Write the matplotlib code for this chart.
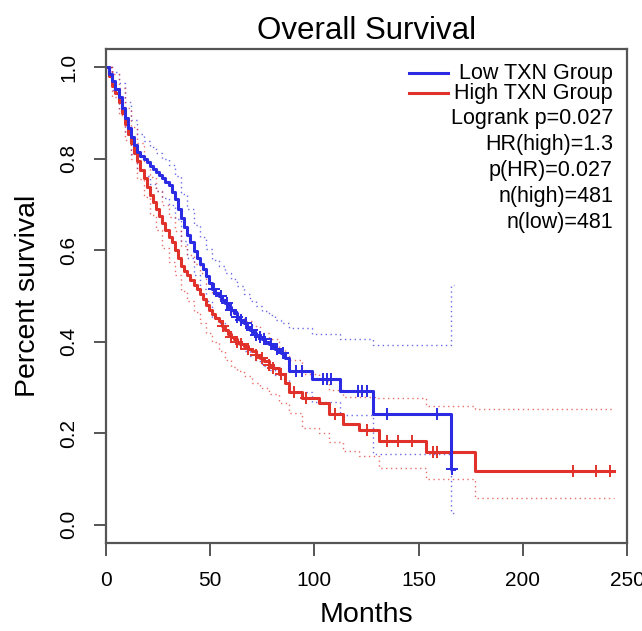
import numpy as np
import matplotlib
matplotlib.use("Agg")
import matplotlib.pyplot as plt

plt.rcParams['font.family'] = ['Liberation Sans', 'DejaVu Sans']

# ---- data ----
low_t = [0, 1.5, 3, 4.5, 6, 7.5, 9, 10.5, 12, 13.5, 15, 16.5, 18, 19.5, 21, 22.5, 24, 25.5, 27, 28.5,
         30, 31.5, 33, 34.5, 36, 37.5, 39, 40.5, 42, 43.5, 45, 46.5, 48, 49.5, 51, 52.5, 54, 55.5, 57,
         58.5, 60, 61.5, 63, 64.5, 66, 67.5, 69, 70.5, 72, 73.5, 75, 76.5, 78, 79.5, 81, 82.5, 84, 86,
         88, 99, 112.5, 128, 165.5, 167]
low_s = [1.000, 0.985, 0.970, 0.952, 0.935, 0.912, 0.890, 0.868, 0.847, 0.830, 0.815, 0.806, 0.800,
         0.792, 0.785, 0.778, 0.771, 0.765, 0.757, 0.750, 0.742, 0.728, 0.712, 0.690, 0.670, 0.650,
         0.634, 0.618, 0.598, 0.583, 0.570, 0.558, 0.544, 0.528, 0.515, 0.507, 0.500, 0.492, 0.485,
         0.477, 0.470, 0.462, 0.455, 0.447, 0.440, 0.432, 0.425, 0.420, 0.415, 0.410, 0.405, 0.400,
         0.395, 0.390, 0.385, 0.380, 0.375, 0.365, 0.337, 0.319, 0.293, 0.243, 0.122, 0.122]

high_t = [0, 1.5, 3, 4.5, 6, 7.5, 9, 10.5, 12, 13.5, 15, 16.5, 18, 19.5, 21, 22.5, 24, 25.5, 27, 28.5,
          30, 31.5, 33, 34.5, 36, 37.5, 39, 40.5, 42, 43.5, 45, 46.5, 48, 49.5, 51, 52.5, 54, 55.5, 57,
          58.5, 60, 61.5, 63, 64.5, 66, 68, 70, 72, 74, 76, 78, 80, 83, 86, 88, 94, 102, 107, 113.5,
          121.5, 131, 153.5, 177, 244]
high_s = [1.000, 0.980, 0.960, 0.943, 0.925, 0.900, 0.875, 0.855, 0.835, 0.812, 0.795, 0.775, 0.757,
          0.738, 0.720, 0.705, 0.690, 0.675, 0.660, 0.645, 0.630, 0.617, 0.600, 0.582, 0.565, 0.555,
          0.545, 0.535, 0.525, 0.515, 0.505, 0.493, 0.480, 0.470, 0.460, 0.452, 0.445, 0.435, 0.425,
          0.417, 0.410, 0.405, 0.400, 0.395, 0.390, 0.385, 0.380, 0.372, 0.365, 0.358, 0.350, 0.342,
          0.330, 0.310, 0.290, 0.278, 0.265, 0.243, 0.221, 0.206, 0.184, 0.158, 0.118, 0.118]

low_up_t = [0, 3, 6, 9, 12, 15, 18, 21, 24, 27, 30, 33, 36, 39, 42, 45, 48, 51, 54, 57, 60, 63, 66, 69,
            72, 75, 78, 81, 84, 88, 99, 112.5, 128, 165.5, 167]
low_up_s = [1.0, 0.99, 0.965, 0.925, 0.885, 0.855, 0.838, 0.825, 0.812, 0.800, 0.787, 0.762, 0.722,
            0.690, 0.655, 0.628, 0.603, 0.578, 0.565, 0.550, 0.538, 0.522, 0.505, 0.490, 0.478, 0.468,
            0.458, 0.448, 0.440, 0.430, 0.418, 0.405, 0.392, 0.523, 0.523]
low_lo_t = [0, 3, 6, 9, 12, 15, 18, 21, 24, 27, 30, 33, 36, 39, 42, 45, 48, 51, 54, 57, 60, 63, 66, 69,
            72, 75, 78, 81, 84, 88, 99, 112.5, 128, 165.5, 167]
low_lo_s = [1.0, 0.95, 0.905, 0.855, 0.81, 0.775, 0.762, 0.745, 0.73, 0.715, 0.698, 0.668, 0.62,
            0.583, 0.545, 0.515, 0.488, 0.455, 0.44, 0.425, 0.41, 0.395, 0.38, 0.368, 0.358, 0.348,
            0.338, 0.328, 0.318, 0.29, 0.268, 0.24, 0.155, 0.026, 0.026]

high_up_t = [0, 3, 6, 9, 12, 15, 18, 21, 24, 27, 30, 33, 36, 39, 42, 45, 48, 51, 54, 57, 60, 63, 66,
             70, 74, 78, 83, 86, 88, 94, 102, 107, 113.5, 129, 153.5, 177, 244]
high_up_s = [1.0, 0.985, 0.955, 0.91, 0.87, 0.835, 0.795, 0.76, 0.73, 0.70, 0.672, 0.643, 0.61, 0.59,
             0.57, 0.55, 0.527, 0.507, 0.493, 0.475, 0.46, 0.452, 0.445, 0.435, 0.42, 0.405, 0.385,
             0.368, 0.36, 0.33, 0.315, 0.295, 0.28, 0.278, 0.26, 0.252, 0.252]
high_lo_t = [0, 3, 6, 9, 12, 15, 18, 21, 24, 27, 30, 33, 36, 39, 42, 45, 48, 51, 54, 57, 60, 63, 66,
             70, 74, 78, 83, 88, 94, 102, 107, 113.5, 121.5, 131, 153.5, 177, 244]
high_lo_s = [1.0, 0.935, 0.895, 0.84, 0.80, 0.755, 0.717, 0.678, 0.645, 0.605, 0.575, 0.545, 0.51,
             0.49, 0.465, 0.44, 0.42, 0.40, 0.38, 0.36, 0.345, 0.335, 0.325, 0.31, 0.298, 0.285, 0.265,
             0.245, 0.212, 0.2, 0.18, 0.162, 0.15, 0.125, 0.1, 0.059, 0.059]

low_cens = [52, 55, 58, 60, 63, 65, 67, 70, 72, 74, 76, 79, 82, 85, 91, 94, 104, 106, 108, 121, 123,
            125, 135, 159, 166]
high_cens = [56, 60, 63, 65, 68, 72, 75, 78, 80, 84, 90, 96, 110, 125, 135, 140, 147, 157, 159, 224,
             235, 242]

legend_labels = ["Low TXN Group", "High TXN Group"]
stats_lines = ["Logrank p=0.027", "HR(high)=1.3", "p(HR)=0.027", "n(high)=481", "n(low)=481"]
x_ticks = [0, 50, 100, 150, 200, 250]
y_ticks = [0.0, 0.2, 0.4, 0.6, 0.8, 1.0]

BLUE = '#2b2be3'
RED = '#e0322a'
AXC = '#555555'


def step_val(ts, ss, x):
    idx = np.searchsorted(ts, x, side='right') - 1
    return np.asarray(ss)[np.clip(idx, 0, len(ss) - 1)]


fig = plt.figure(figsize=(6.42, 6.31), dpi=100)
ax = fig.add_axes([106 / 642, 1 - 543 / 631, (627 - 106) / 642, (543 - 49) / 631])

for t, s, c in [(low_up_t, low_up_s, BLUE), (low_lo_t, low_lo_s, BLUE),
                (high_up_t, high_up_s, RED), (high_lo_t, high_lo_s, RED)]:
    ax.plot(t, s, drawstyle='steps-post', color=c, lw=1.0, ls=(0, (1, 2.5)), alpha=0.7)

ax.plot(high_t, high_s, drawstyle='steps-post', color=RED, lw=2.2)
ax.plot(low_t, low_s, drawstyle='steps-post', color=BLUE, lw=2.2)

ax.plot(high_cens, step_val(high_t, high_s, np.array(high_cens)), '+', color=RED, ms=9, mew=1.4)
ax.plot(low_cens, step_val(low_t, low_s, np.array(low_cens)), '+', color=BLUE, ms=9, mew=1.4)

ax.set_xlim(0, 250)
ax.set_ylim(-0.04, 1.04)
ax.set_xticks(x_ticks)
ax.set_xticklabels([str(v) for v in x_ticks], fontsize=15)
ax.set_yticks(y_ticks)
ax.set_yticklabels([f"{v:.1f}" for v in y_ticks], fontsize=15, rotation=90, va='center')
ax.tick_params(axis='both', length=9, width=1.4, color=AXC)
ax.tick_params(axis='x', pad=11)
ax.tick_params(axis='y', pad=11)
for sp in ax.spines.values():
    sp.set_color(AXC)
    sp.set_linewidth(1.6)

ax.set_xlabel("Months", fontsize=20.5, labelpad=9)
ax.set_ylabel("Percent survival", fontsize=20.5, labelpad=13)
ax.set_title("Overall Survival", fontsize=22.5, pad=7)

# legend-like annotations
ax.plot([145.2, 164], [0.987, 0.987], color=BLUE, lw=2.2)
ax.plot([145.2, 164], [0.943, 0.943], color=RED, lw=2.2)
ax.text(243.3, 0.987, legend_labels[0], ha='right', va='center', fontsize=15.5)
ax.text(243.3, 0.943, legend_labels[1], ha='right', va='center', fontsize=15.5)
for i, line in enumerate(stats_lines):
    ax.text(243.3, 0.888 - i * 0.0569, line, ha='right', va='center', fontsize=15.5)

fig.savefig("out.png", dpi=100)
